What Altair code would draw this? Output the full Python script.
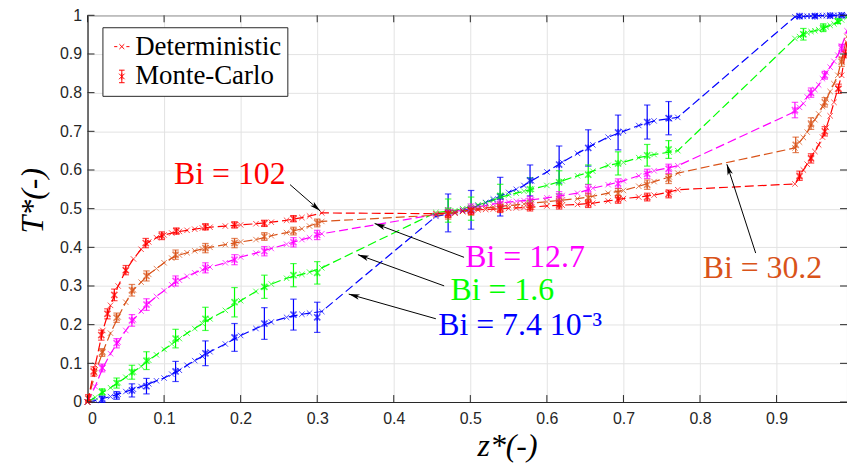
import math
import altair as alt
import pandas as pd

# ---------------- data ----------------
series = ["Bi = 7.4e-3", "Bi = 1.6", "Bi = 12.7", "Bi = 30.2", "Bi = 102"]
colors = ["#0000FF", "#00FF00", "#FF00FF", "#D95319", "#FF0000"]

z_det = [0, 0.01, 0.02, 0.03, 0.04, 0.05, 0.06, 0.07, 0.08, 0.09, 0.10, 0.11, 0.12, 0.13, 0.14, 0.15,
         0.16, 0.18, 0.20, 0.22, 0.24, 0.26, 0.28, 0.29, 0.306,
         0.455, 0.48, 0.49, 0.50, 0.51, 0.52, 0.53, 0.54, 0.55, 0.56, 0.57, 0.58, 0.60, 0.62, 0.64, 0.66,
         0.68, 0.70, 0.72, 0.74, 0.76, 0.771,
         0.924, 0.93, 0.935, 0.94, 0.945, 0.95, 0.955, 0.96, 0.965, 0.97, 0.975, 0.98, 0.985, 0.992]

det_blue = [0, 0.004, 0.009, 0.014, 0.02, 0.027, 0.033, 0.04, 0.047, 0.055, 0.062, 0.072, 0.082, 0.095, 0.107, 0.118,
            0.13, 0.15, 0.172, 0.19, 0.207, 0.219, 0.227, 0.23, 0.234,
            0.48, 0.49, 0.495, 0.50, 0.508, 0.516, 0.525, 0.533, 0.542, 0.55, 0.56, 0.572, 0.595, 0.62, 0.643, 0.665,
            0.685, 0.70, 0.715, 0.727, 0.733, 0.736,
            0.996, 0.997, 0.997, 0.998, 0.998, 0.998, 0.999, 0.999, 0.999, 0.999, 1.0, 1.0, 1.0, 1.0]
det_green = [0, 0.012, 0.025, 0.037, 0.05, 0.064, 0.078, 0.092, 0.108, 0.122, 0.136, 0.15, 0.164, 0.178, 0.19, 0.203,
             0.215, 0.237, 0.262, 0.286, 0.305, 0.32, 0.33, 0.336, 0.347,
             0.49, 0.495, 0.50, 0.505, 0.51, 0.515, 0.522, 0.53, 0.535, 0.54, 0.545, 0.55, 0.56, 0.572, 0.585, 0.597,
             0.612, 0.62, 0.632, 0.64, 0.646, 0.65,
             0.94, 0.945, 0.951, 0.955, 0.958, 0.96, 0.963, 0.966, 0.97, 0.974, 0.978, 0.983, 0.988, 0.995]
det_magenta = [0, 0.04, 0.088, 0.125, 0.155, 0.185, 0.213, 0.235, 0.256, 0.273, 0.288, 0.303, 0.315, 0.325, 0.334, 0.342,
               0.349, 0.36, 0.375, 0.385, 0.397, 0.408, 0.42, 0.425, 0.435,
               0.485, 0.492, 0.497, 0.50, 0.505, 0.508, 0.512, 0.515, 0.517, 0.519, 0.521, 0.523, 0.528, 0.534, 0.54, 0.553,
               0.562, 0.572, 0.585, 0.598, 0.606, 0.611,
               0.751, 0.762, 0.772, 0.789, 0.798, 0.808, 0.82, 0.836, 0.852, 0.866, 0.881, 0.897, 0.92, 0.96]
det_orange = [0, 0.075, 0.13, 0.178, 0.22, 0.258, 0.29, 0.31, 0.33, 0.345, 0.36, 0.372, 0.38, 0.386, 0.391, 0.396,
              0.40, 0.407, 0.414, 0.42, 0.43, 0.438, 0.448, 0.455, 0.467,
              0.483, 0.488, 0.493, 0.497, 0.50, 0.502, 0.504, 0.506, 0.508, 0.51, 0.512, 0.514, 0.518, 0.522, 0.526, 0.532,
              0.54, 0.547, 0.558, 0.57, 0.582, 0.592,
              0.657, 0.672, 0.684, 0.698, 0.716, 0.73, 0.745, 0.764, 0.783, 0.803, 0.823, 0.845, 0.885, 0.945]
det_red = [0, 0.095, 0.185, 0.25, 0.30, 0.34, 0.37, 0.395, 0.414, 0.425, 0.432, 0.437, 0.441, 0.444, 0.447, 0.45,
           0.452, 0.455, 0.458, 0.461, 0.465, 0.47, 0.477, 0.481, 0.489,
           0.487, 0.49, 0.493, 0.495, 0.497, 0.498, 0.499, 0.50, 0.501, 0.502, 0.503, 0.504, 0.507, 0.509, 0.511, 0.514,
           0.52, 0.526, 0.53, 0.535, 0.543, 0.549,
           0.564, 0.582, 0.60, 0.615, 0.632, 0.648, 0.665, 0.685, 0.71, 0.74, 0.775, 0.81, 0.845, 0.93]
det_T = [det_blue, det_green, det_magenta, det_orange, det_red]

# Monte-Carlo points: z, mean, half error
mc_z_blue = [0.019, 0.038, 0.058, 0.077, 0.115, 0.154, 0.192, 0.231, 0.269, 0.30,
             0.471, 0.501, 0.539, 0.578, 0.616, 0.654, 0.693, 0.731, 0.759,
             0.93, 0.95, 0.97, 0.985]
mc_T_blue = [0.007, 0.017, 0.03, 0.041, 0.079, 0.126, 0.167, 0.203, 0.226, 0.219,
             0.489, 0.497, 0.531, 0.573, 0.614, 0.657, 0.697, 0.724, 0.734,
             0.998, 0.998, 0.999, 1.0]
mc_e_blue = [0.008, 0.01, 0.017, 0.02, 0.026, 0.032, 0.036, 0.041, 0.04, 0.039,
             0.049, 0.05, 0.05, 0.04, 0.048, 0.047, 0.045, 0.044, 0.043,
             0.003, 0.003, 0.002, 0.002]

mc_z_green = [0.019, 0.038, 0.058, 0.077, 0.115, 0.154, 0.192, 0.231, 0.269, 0.30,
              0.471, 0.501, 0.539, 0.578, 0.616, 0.654, 0.693, 0.731, 0.759,
              0.935, 0.961, 0.98]
mc_T_green = [0.026, 0.049, 0.077, 0.107, 0.164, 0.215, 0.258, 0.298, 0.328, 0.334,
              0.495, 0.50, 0.533, 0.55, 0.568, 0.588, 0.617, 0.638, 0.653,
              0.951, 0.968, 0.985]
mc_e_green = [0.008, 0.013, 0.018, 0.023, 0.024, 0.03, 0.038, 0.03, 0.03, 0.029,
              0.03, 0.03, 0.03, 0.03, 0.03, 0.025, 0.03, 0.028, 0.023,
              0.015, 0.01, 0.006]

mc_z_magenta = [0.019, 0.038, 0.058, 0.077, 0.115, 0.154, 0.192, 0.231, 0.269, 0.30,
                0.471, 0.501, 0.539, 0.578, 0.616, 0.654, 0.693, 0.731, 0.759,
                0.924, 0.945, 0.963, 0.985]
mc_T_magenta = [0.088, 0.152, 0.211, 0.252, 0.313, 0.347, 0.368, 0.39, 0.413, 0.432,
                0.49, 0.50, 0.512, 0.52, 0.532, 0.55, 0.565, 0.59, 0.603,
                0.755, 0.80, 0.845, 0.915]
mc_e_magenta = [0.01, 0.012, 0.015, 0.015, 0.013, 0.013, 0.013, 0.012, 0.012, 0.012,
                0.012, 0.012, 0.012, 0.012, 0.012, 0.012, 0.012, 0.012, 0.012,
                0.02, 0.012, 0.01, 0.01]

mc_z_orange = [0.019, 0.038, 0.058, 0.077, 0.115, 0.154, 0.192, 0.231, 0.269, 0.30,
               0.471, 0.501, 0.539, 0.578, 0.616, 0.654, 0.693, 0.731, 0.759,
               0.925, 0.945, 0.963, 0.985]
mc_T_orange = [0.128, 0.218, 0.289, 0.326, 0.381, 0.398, 0.411, 0.428, 0.442, 0.463,
               0.485, 0.495, 0.505, 0.51, 0.518, 0.528, 0.54, 0.562, 0.577,
               0.665, 0.72, 0.775, 0.88]
mc_e_orange = [0.01, 0.012, 0.015, 0.013, 0.012, 0.012, 0.012, 0.01, 0.01, 0.01,
               0.012, 0.012, 0.012, 0.012, 0.012, 0.012, 0.012, 0.012, 0.012,
               0.02, 0.015, 0.012, 0.012]

mc_z_red = [0.001, 0.008, 0.018, 0.026, 0.035, 0.05, 0.076, 0.097, 0.116, 0.154, 0.192, 0.231, 0.269,
            0.471, 0.501, 0.539, 0.578, 0.616, 0.654, 0.693, 0.731, 0.759,
            0.93, 0.945, 0.963, 0.981, 0.99]
mc_T_red = [0.009, 0.079, 0.173, 0.228, 0.277, 0.341, 0.411, 0.43, 0.442, 0.453, 0.458, 0.462, 0.474,
            0.487, 0.495, 0.50, 0.504, 0.509, 0.513, 0.524, 0.53, 0.538,
            0.585, 0.63, 0.70, 0.81, 0.90]
mc_e_red = [0.01, 0.012, 0.013, 0.013, 0.015, 0.012, 0.012, 0.01, 0.008, 0.008, 0.008, 0.008, 0.008,
            0.01, 0.01, 0.01, 0.01, 0.01, 0.01, 0.01, 0.01, 0.01,
            0.012, 0.012, 0.012, 0.012, 0.01]

mc_z = [mc_z_blue, mc_z_green, mc_z_magenta, mc_z_orange, mc_z_red]
mc_T = [mc_T_blue, mc_T_green, mc_T_magenta, mc_T_orange, mc_T_red]
mc_e = [mc_e_blue, mc_e_green, mc_e_magenta, mc_e_orange, mc_e_red]

# annotations (text anchored at left/baseline) and arrows
ann_text = ["Bi = 102", "Bi = 12.7", "Bi = 1.6", "Bi = 7.4 10\u207b\u00b3", "Bi = 30.2"]
ann_color = ["#FF0000", "#FF00FF", "#00FF00", "#0000FF", "#D95319"]
ann_z = [0.113, 0.4935, 0.474, 0.458, 0.8035]
ann_T = [0.563, 0.349, 0.2645, 0.173, 0.32]

arr_z = [0.2645, 0.4918, 0.4658, 0.455, 0.8727]
arr_T = [0.5622, 0.3742, 0.3003, 0.2153, 0.3852]
arr_z2 = [0.304, 0.375, 0.3532, 0.3412, 0.8351]
arr_T2 = [0.494, 0.4617, 0.3811, 0.2791, 0.6148]

x_ticks = [0, 0.1, 0.2, 0.3, 0.4, 0.5, 0.6, 0.7, 0.8, 0.9]
y_ticks = [0, 0.1, 0.2, 0.3, 0.4, 0.5, 0.6, 0.7, 0.8, 0.9, 1.0]

# ---------------- layout ----------------
W, H = 764, 389
ZMAX = 0.992
DARK = "#262626"

det_rows = []
for name, vals in zip(series, det_T):
    for z, t in zip(z_det, vals):
        det_rows.append({"series": name, "z": z, "T": t, "kind": "Deterministic"})
det = pd.DataFrame(det_rows)

mc_rows = []
for name, zs, ts, es in zip(series, mc_z, mc_T, mc_e):
    for z, t, e in zip(zs, ts, es):
        mc_rows.append({"series": name, "z": z, "T": t, "lo": t - e, "hi": t + e, "kind": "Monte-Carlo"})
mc = pd.DataFrame(mc_rows)

ann = pd.DataFrame({"text": ann_text, "color": ann_color, "z": ann_z, "T": ann_T})
arr = pd.DataFrame({"z": arr_z, "T": arr_T, "z2": arr_z2, "T2": arr_T2})
arr["angle"] = [
    (math.degrees(math.atan2((b - a) * W / ZMAX, (d - c) * H)) + 360) % 360
    for a, b, c, d in zip(arr_z, arr_z2, arr_T, arr_T2)
]

xs = alt.Scale(domain=[0, ZMAX], nice=False, zero=False)
ys = alt.Scale(domain=[0, 1], nice=False, zero=False)
XAX = alt.Axis(values=x_ticks, format="~g", title="z*(-)", labelPadding=9,
               titleX=422, titleY=44, titleAlign="center", titleBaseline="middle")
YAX = alt.Axis(values=y_ticks, format="~g", title="T*(-)", labelPadding=6,
               titleX=-55, titleY=186, titleAlign="center", titleBaseline="middle", titleAngle=270)
col = alt.Color("series:N", scale=alt.Scale(domain=series, range=colors), legend=None)


def X(f):
    return alt.X(f, scale=xs, axis=XAX)


def Y(f):
    return alt.Y(f, scale=ys, axis=YAX)


X_SHAPE = "M-1,-1L1,1M-1,1L1,-1"
AST_SHAPE = "M-1,-1L1,1M-1,1L1,-1M0,-1.1L0,1.1"
CAP_SHAPE = "M-1,0L1,0"
HEAD_SHAPE = "M0,0L0.45,1.8L0,1.35L-0.45,1.8Z"
LEG_DET = "M-2.2,0L-1.3,0M-0.7,-0.7L0.7,0.7M-0.7,0.7L0.7,-0.7M1.3,0L2.2,0"
LEG_MC = "M-0.8,-1.8L0.8,-1.8M0,-1.8L0,1.8M-0.8,1.8L0.8,1.8M-0.8,-0.8L0.8,0.8M-0.8,0.8L0.8,-0.8M0,-0.9L0,0.9"

lines = alt.Chart(det).mark_line(strokeWidth=1.2, strokeDash=[9, 4]).encode(
    x=X("z:Q"), y=Y("T:Q"), color=col, order="z:Q")
det_pts = alt.Chart(det).mark_point(shape=X_SHAPE, size=30, strokeWidth=1, filled=False).encode(
    x=X("z:Q"), y=Y("T:Q"), color=col)

err = alt.Chart(mc).mark_rule(strokeWidth=1.2).encode(
    x=X("z:Q"), y=Y("lo:Q"), y2="hi:Q", color=col)
cap_lo = alt.Chart(mc).mark_point(shape=CAP_SHAPE, size=42, strokeWidth=1.2, filled=False).encode(
    x=X("z:Q"), y=Y("lo:Q"), color=col)
cap_hi = alt.Chart(mc).mark_point(shape=CAP_SHAPE, size=42, strokeWidth=1.2, filled=False).encode(
    x=X("z:Q"), y=Y("hi:Q"), color=col)
mc_pts = alt.Chart(mc).mark_point(shape=AST_SHAPE, size=38, strokeWidth=1.6, filled=False).encode(
    x=X("z:Q"), y=Y("T:Q"), color=col)

legend_src = pd.concat([det[["z", "T", "kind"]].head(1), mc[["z", "T", "kind"]].head(1)])
legend_layer = alt.Chart(legend_src).mark_point(opacity=0, filled=False).encode(
    x=X("z:Q"), y=Y("T:Q"),
    shape=alt.Shape("kind:N",
                    scale=alt.Scale(domain=["Deterministic", "Monte-Carlo"], range=[LEG_DET, LEG_MC]),
                    legend=alt.Legend(title=None, orient="none", legendX=15, legendY=12,
                                      labelFont="Liberation Serif", labelFontSize=27, labelColor="black",
                                      symbolSize=49, symbolStrokeWidth=1, symbolStrokeColor="#FF0000",
                                      symbolFillColor="transparent", symbolOpacity=1,
                                      strokeColor=DARK, fillColor="white", padding=6,
                                      labelOffset=0, rowPadding=2)))

arrows = alt.Chart(arr).mark_rule(color="black", strokeWidth=1).encode(
    x=X("z:Q"), y=Y("T:Q"), x2="z2:Q", y2="T2:Q")
heads = alt.Chart(arr).mark_point(shape=HEAD_SHAPE, size=150, filled=True, color="black", opacity=1).encode(
    x=X("z2:Q"), y=Y("T2:Q"), angle=alt.Angle("angle:Q", scale=None))

texts = alt.Chart(ann).mark_text(align="left", baseline="alphabetic", font="Liberation Serif", fontSize=32).encode(
    x=X("z:Q"), y=Y("T:Q"), text="text:N", color=alt.Color("color:N", scale=None))

# inward ticks on all four sides
xt = pd.DataFrame({"v": x_ticks})
yt = pd.DataFrame({"v": y_ticks})
tick_b = alt.Chart(xt).mark_rule(color=DARK, strokeWidth=1).encode(
    x=X("v:Q"), y=alt.value(H), y2=alt.value(H - 7))
tick_t = alt.Chart(xt).mark_rule(color=DARK, strokeWidth=1).encode(
    x=X("v:Q"), y=alt.value(0), y2=alt.value(7))
tick_l = alt.Chart(yt).mark_rule(color=DARK, strokeWidth=1).encode(
    y=Y("v:Q"), x=alt.value(0), x2=alt.value(7))
tick_r = alt.Chart(yt).mark_rule(color=DARK, strokeWidth=1).encode(
    y=Y("v:Q"), x=alt.value(W), x2=alt.value(W - 7))

chart = alt.layer(
    lines, det_pts, err, cap_lo, cap_hi, mc_pts, legend_layer,
    arrows, heads, texts, tick_b, tick_t, tick_l, tick_r
).properties(
    width=W, height=H,
    padding={"left": 80, "top": 6, "right": 0, "bottom": 60},
    autosize=alt.AutoSizeParams(type="none"),
    background="white",
).configure_view(
    stroke=DARK, strokeWidth=1
).configure_axis(
    grid=True, gridColor="#e3e3e3", gridWidth=1, domainColor=DARK, domainWidth=1, tickSize=0,
    labelFont="Liberation Sans", labelFontSize=16, labelColor=DARK,
    titleFont="Liberation Serif", titleFontSize=32, titleFontStyle="italic", titleFontWeight="normal",
    titleColor="black",
)

chart.save("out.html", embed_options={"renderer": "svg", "actions": False})
